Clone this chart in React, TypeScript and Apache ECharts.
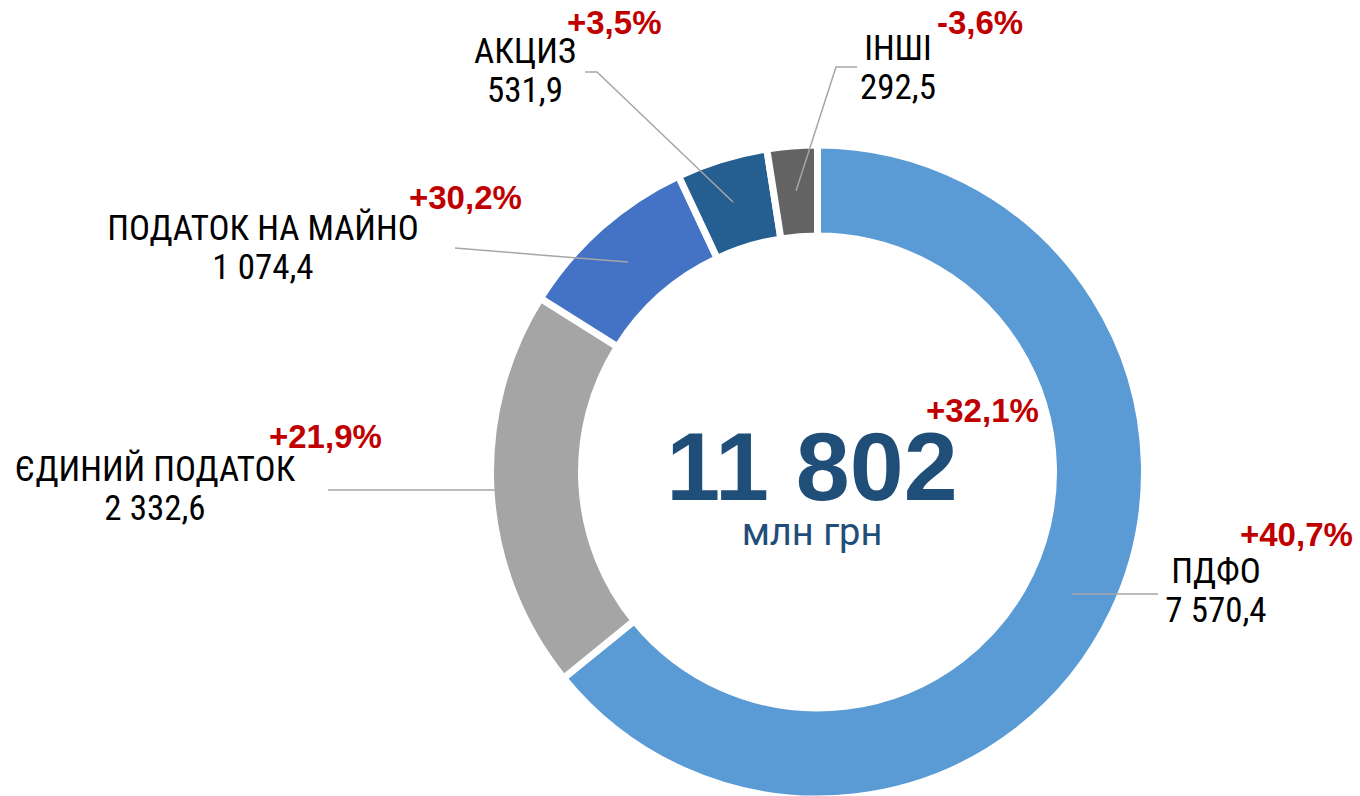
import React, { useEffect, useRef } from "react";
import * as echarts from "echarts";

// ---- data ----
const categories = ["ПДФО", "ЄДИНИЙ ПОДАТОК", "ПОДАТОК НА МАЙНО", "АКЦИЗ", "ІНШІ"];
const values = [7570.4, 2332.6, 1074.4, 531.9, 292.5];
const growth = ["+40,7%", "+21,9%", "+30,2%", "+3,5%", "-3,6%"];
const totalUnit = "млн грн";
const totalGrowth = "+32,1%";

// ---- styles / layout ----
const colors = ["#5B9BD5", "#A5A5A5", "#4472C4", "#255E91", "#636363"];
const labelAnchors = [
  [1216, 591],
  [155, 489],
  [263, 248],
  [525, 71],
  [898, 68],
];
const leaderLines = [
  [[1072, 594], [1115, 594], [1158, 594]],
  [[540, 490], [430, 490], [328, 490]],
  [[628, 262], [540, 255], [455, 248]],
  [[733, 202], [597, 72], [585, 72]],
  [[796, 191], [836, 67], [857, 67]],
];
const growthAnchors = [
  [1240, 534],
  [269, 436],
  [409, 197],
  [567, 22],
  [937, 22],
];

const labelFont = "'Liberation Sans Narrow', 'Roboto Condensed', 'DejaVu Sans Condensed', sans-serif";
const boldFont = "'Liberation Sans', Arial, sans-serif";

function fmt(v: number, digits: number): string {
  const s = v.toFixed(digits);
  const [i, d] = s.split(".");
  const ii = i.replace(/\B(?=(\d{3})+(?!\d))/g, " ");
  return d !== undefined ? ii + "," + d : ii;
}

export default function App() {
  const ref = useRef<HTMLDivElement>(null);
  useEffect(() => {
    if (!ref.current) return;
    const chart = echarts.init(ref.current, undefined, { renderer: "svg" });
    const total = values.reduce((a, b) => a + b, 0);
    const pieData = categories.map((c, i) => ({
      name: c,
      value: values[i],
      itemStyle: { color: colors[i] },
    }));
    const option: any = {
      animation: false,
      backgroundColor: "#ffffff",
      graphic: [
        ...growth.map((g, i) => ({
          type: "text",
          x: growthAnchors[i][0],
          y: growthAnchors[i][1],
          style: {
            text: g,
            fill: "#C00000",
            font: `bold 33px ${boldFont}`,
            lineHeight: 28,
            align: "left",
            verticalAlign: "middle",
          },
        })),
        {
          type: "text",
          x: 926,
          y: 410,
          style: {
            text: totalGrowth,
            fill: "#C00000",
            font: `bold 33px ${boldFont}`,
            lineHeight: 28,
            align: "left",
            verticalAlign: "middle",
          },
        },
        {
          type: "text",
          x: 812,
          y: 466,
          style: {
            text: fmt(total, 0),
            fill: "#1F4E79",
            font: `bold 97px ${boldFont}`,
            lineHeight: 74,
            align: "center",
            verticalAlign: "middle",
          },
        },
        {
          type: "text",
          x: 812,
          y: 532,
          style: {
            text: totalUnit,
            fill: "#1F4E79",
            font: `38px Roboto, sans-serif`,
            lineHeight: 36,
            align: "center",
            verticalAlign: "middle",
          },
        },
      ],
      series: [
        {
          type: "pie",
          z: 2,
          center: [817.5, 472],
          radius: [236, 327],
          startAngle: 90,
          clockwise: true,
          avoidLabelOverlap: false,
          silent: true,
          itemStyle: { borderColor: "#ffffff", borderWidth: 7 },
          data: pieData,
          label: { show: false },
          labelLine: { show: false },
          emphasis: { disabled: true },
        },
        {
          type: "pie",
          z: 5,
          center: [817.5, 472],
          radius: [236, 327],
          startAngle: 90,
          clockwise: true,
          avoidLabelOverlap: false,
          silent: true,
          itemStyle: { color: "rgba(0,0,0,0)", borderWidth: 0 },
          data: categories.map((c, i) => ({
            name: c,
            value: values[i],
            itemStyle: { color: "rgba(0,0,0,0)" },
          })),
          label: {
            show: true,
            position: "outside",
            formatter: (p: any) => `{n|${p.name}}\n{v|${fmt(p.value, 1)}}`,
            rich: {
              n: { fontFamily: labelFont, fontSize: 35, color: "#000000", lineHeight: 39, align: "center" },
              v: { fontFamily: labelFont, fontSize: 35, color: "#000000", lineHeight: 39, align: "center" },
            },
          },
          labelLine: {
            show: true,
            lineStyle: { color: "#A6A6A6", width: 1.5 },
          },
          labelLayout: (params: any) => {
            const i = params.dataIndex;
            return {
              x: labelAnchors[i][0],
              y: labelAnchors[i][1],
              align: "center",
              verticalAlign: "middle",
              labelLinePoints: leaderLines[i],
            };
          },
          emphasis: { disabled: true },
        },
      ],
    };
    chart.setOption(option);
    return () => chart.dispose();
  }, []);
  return (
    <div
      ref={ref}
      style={{ position: "absolute", left: 0, top: 0, width: 1360, height: 796 }}
    />
  );
}
